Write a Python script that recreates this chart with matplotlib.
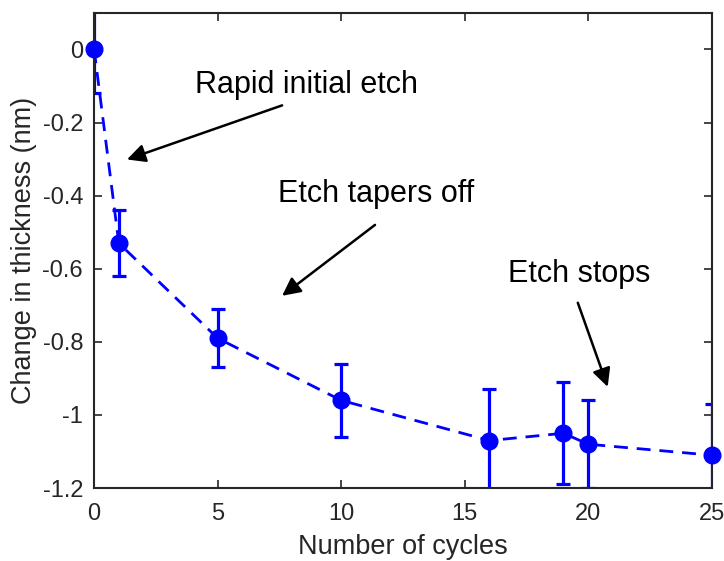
import matplotlib.pyplot as plt

# etch depth vs. cycle count
cycles = [0, 1, 5, 10, 16, 19, 20, 25]
thickness = [0.0, -0.53, -0.79, -0.96, -1.07, -1.05, -1.08, -1.11]
errors = [0.12, 0.09, 0.08, 0.10, 0.14, 0.14, 0.12, 0.14]

plt.rcParams['font.family'] = ['Liberation Sans', 'DejaVu Sans']
dark = '#262626'

fig = plt.figure(figsize=(7.24, 5.61), dpi=100)
ax = fig.add_axes([0.130, 0.130, 0.853, 0.847])

# error bars are clipped by the axes, the markers are not
ax.errorbar(cycles, thickness, yerr=errors, fmt='none', ecolor='blue',
            elinewidth=2.3, capsize=5, capthick=2.3)
ax.plot(cycles, thickness, color='blue', linestyle='--', linewidth=2,
        dashes=(5, 3.2))
ax.plot(cycles, thickness, 'o', color='blue', markersize=12, clip_on=False,
        zorder=5)

ax.set_xlim(0, 25)
ax.set_ylim(-1.2, 0.1)
ax.set_xticks([0, 5, 10, 15, 20, 25])
ax.set_yticks([-1.2, -1, -0.8, -0.6, -0.4, -0.2, 0])
ax.set_yticklabels(['-1.2', '-1', '-0.8', '-0.6', '-0.4', '-0.2', '0'])
ax.tick_params(direction='in', top=True, right=True, labelsize=17,
               colors=dark, width=1.2, length=6)
ax.tick_params(axis='y', pad=8)
ax.tick_params(axis='x', pad=11)
for s in ax.spines.values():
    s.set_color(dark)
    s.set_linewidth(1.5)

ax.set_xlabel('Number of cycles', fontsize=19.5, color=dark, labelpad=6)
ax.set_ylabel('Change in thickness (nm)', fontsize=19.5, color=dark,
              labelpad=4)

arrow = dict(arrowstyle='-|>,head_length=0.5,head_width=0.25', color='black',
             lw=1.8, mutation_scale=22, shrinkA=0, shrinkB=0)
ax.annotate('', xy=(1.33, -0.301), xytext=(7.61, -0.153), arrowprops=arrow)
ax.annotate('', xy=(7.61, -0.674), xytext=(11.37, -0.480), arrowprops=arrow)
ax.annotate('', xy=(20.79, -0.923), xytext=(19.58, -0.693), arrowprops=arrow)
ax.text(4.09, -0.118, 'Rapid initial etch', fontsize=22, va='baseline')
ax.text(7.44, -0.416, 'Etch tapers off', fontsize=22, va='baseline')
ax.text(16.75, -0.636, 'Etch stops', fontsize=22, va='baseline')

fig.savefig('out.png', dpi=100)
